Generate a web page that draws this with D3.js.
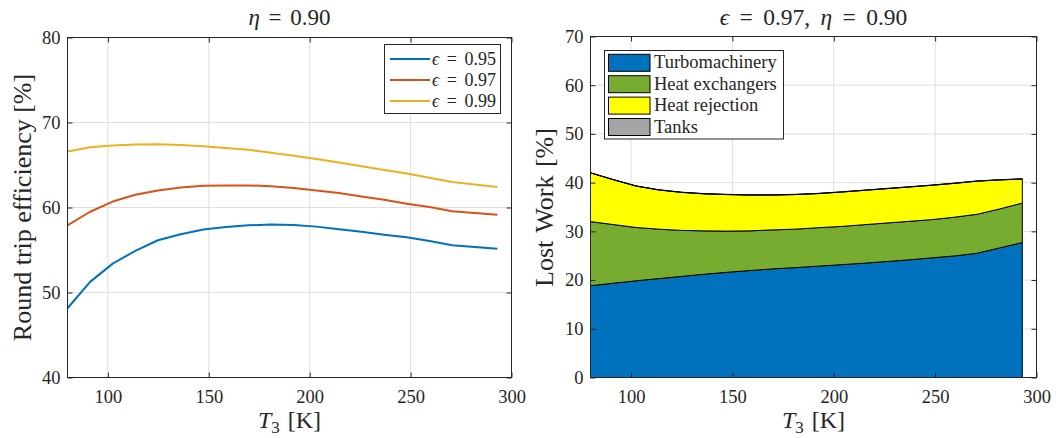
<!DOCTYPE html>
<html><head><meta charset="utf-8">
<script src="https://cdn.jsdelivr.net/npm/d3@7"></script>
<style>
body{margin:0;background:#fff}
svg{display:block}
text{font-family:"Liberation Serif","DejaVu Serif",serif;fill:#262626}
</style>
</head><body><svg id="c" width="1059" height="438"></svg>
<script>
// ---------- data ----------
const T3 = [80, 91.2, 102.4, 113.6, 124.8, 136.1, 147.3, 158.5, 169.7, 180.9, 192.1, 203.3, 214.5, 225.7, 236.9, 248.1, 259.4, 270.6, 281.8, 293];
const eff095 = [48.15, 51.25, 53.4, 54.9, 56.15, 56.85, 57.4, 57.7, 57.9, 58.0, 57.95, 57.75, 57.45, 57.15, 56.8, 56.5, 56.05, 55.55, 55.35, 55.15];
const eff097 = [57.9, 59.5, 60.7, 61.5, 62.0, 62.35, 62.55, 62.6, 62.6, 62.5, 62.3, 62.0, 61.7, 61.3, 60.9, 60.45, 60.05, 59.55, 59.35, 59.15];
const eff099 = [66.6, 67.1, 67.3, 67.4, 67.43, 67.35, 67.2, 67.0, 66.8, 66.45, 66.1, 65.7, 65.3, 64.85, 64.4, 64.0, 63.5, 63.0, 62.7, 62.4];
const effLabels = ["0.95", "0.97", "0.99"];
const effColors = ["#0072BD", "#D95319", "#EDB120"];

const lwTurbo   = [18.85, 19.35, 19.85, 20.3, 20.75, 21.2, 21.6, 21.95, 22.3, 22.55, 22.85, 23.15, 23.45, 23.8, 24.15, 24.55, 24.95, 25.5, 26.6, 27.7];
const lwHeatEx  = [13.15, 12.05, 10.95, 10.15, 9.45, 8.9, 8.45, 8.15, 8.0, 7.9, 7.9, 7.85, 7.9, 7.9, 7.9, 7.85, 7.95, 8.0, 8.0, 8.1];
const lwHeatRej = [10.0, 9.2, 8.5, 8.05, 7.8, 7.6, 7.5, 7.35, 7.15, 7.1, 7.0, 7.05, 7.05, 7.05, 7.05, 7.05, 6.95, 6.8, 5.95, 4.95];
const lwTanks   = [0.05, 0.05, 0.05, 0.05, 0.05, 0.05, 0.05, 0.05, 0.05, 0.05, 0.05, 0.05, 0.05, 0.05, 0.05, 0.05, 0.05, 0.05, 0.05, 0.05];
const lwNames  = ["Turbomachinery", "Heat exchangers", "Heat rejection", "Tanks"];
const lwColors = ["#0072BD", "#77AC30", "#FFFF00", "#A5A5A5"];

const xTicks = [100, 150, 200, 250, 300];
const yTicksL = [40, 50, 60, 70, 80];
const yTicksR = [0, 10, 20, 30, 40, 50, 60, 70];

// ---------- layout ----------
const svg = d3.select("#c");
const AX = "#262626", GRID = "#dfdfdf";
const FONT = '"Liberation Serif","DejaVu Serif",serif';

function panel(x, y, xt, yt) {
  const g = svg.append("g");
  const [x0, x1] = x.range(), [y0, y1] = y.range();
  const grid = g.append("g");
  xt.filter(v => v > x.domain()[0] && v < x.domain()[1]).forEach(v =>
    grid.append("line").attr("x1", x(v)).attr("x2", x(v)).attr("y1", y0).attr("y2", y1)
      .attr("stroke", GRID).attr("stroke-width", 1));
  yt.filter(v => v > y.domain()[0] && v < y.domain()[1]).forEach(v =>
    grid.append("line").attr("y1", y(v)).attr("y2", y(v)).attr("x1", x0).attr("x2", x1)
      .attr("stroke", GRID).attr("stroke-width", 1));
  const data = g.append("g");
  const axes = g.append("g");
  return {g, data, axes, draw() {
    const ab = axes.append("g").attr("transform", `translate(0,${y0})`)
      .call(d3.axisBottom(x).tickValues(xt).tickSizeInner(-5).tickSizeOuter(0).tickPadding(12).tickFormat(d3.format("d")));
    const at = axes.append("g").attr("transform", `translate(0,${y1})`)
      .call(d3.axisTop(x).tickValues(xt).tickSizeInner(-5).tickSizeOuter(0).tickFormat(""));
    const al = axes.append("g").attr("transform", `translate(${x0},0)`)
      .call(d3.axisLeft(y).tickValues(yt).tickSizeInner(-5).tickSizeOuter(0).tickPadding(7).tickFormat(d3.format("d")));
    const ar = axes.append("g").attr("transform", `translate(${x1},0)`)
      .call(d3.axisRight(y).tickValues(yt).tickSizeInner(-5).tickSizeOuter(0).tickFormat(""));
    [ab, at, al, ar].forEach(a => {
      a.select(".domain").remove();
      a.selectAll("line").attr("stroke", AX);
      a.selectAll("text").style("font-size", "18.5px").attr("fill", AX).style("font-family", FONT);
    });
    axes.append("rect").attr("x", x0).attr("y", y1).attr("width", x1 - x0).attr("height", y0 - y1)
      .attr("fill", "none").attr("stroke", AX).attr("stroke-width", 1);
  }};
}

// ---------- left panel ----------
const xL = d3.scaleLinear([80, 300], [67.5, 511.5]);
const yL = d3.scaleLinear([40, 80], [377.5, 37.5]);
const pL = panel(xL, yL, xTicks, yTicksL);
const effSeries = [eff095, eff097, eff099];
const line = d3.line().x((d, i) => xL(T3[i])).y(d => yL(d));
effSeries.forEach((s, k) => {
  pL.data.append("path").attr("d", line(s)).attr("fill", "none")
    .attr("stroke", effColors[k]).attr("stroke-width", 2).attr("stroke-linejoin", "round");
});
pL.draw();

// ---------- right panel ----------
const xR = d3.scaleLinear([80, 300], [590.5, 1036.5]);
const yR = d3.scaleLinear([0, 70], [377.5, 36.5]);
const pR = panel(xR, yR, xTicks, yTicksR);
const rows = T3.map((t, i) => ({t, a: lwTurbo[i], b: lwHeatEx[i], c: lwHeatRej[i], d: lwTanks[i]}));
const stacked = d3.stack().keys(["a", "b", "c", "d"])(rows);
const area = d3.area().x(d => xR(d.data.t)).y0(d => yR(d[0])).y1(d => yR(d[1]));
stacked.forEach((s, k) => {
  pR.data.append("path").attr("d", area(s) + "Z").attr("fill", lwColors[k])
    .attr("stroke", "#000").attr("stroke-width", 1).attr("stroke-linejoin", "round");
});
pR.draw();

// ---------- texts ----------
function mathText(sel, parts) {
  parts.forEach(p => {
    const t = sel.append("tspan").text(p.t);
    if (p.i) t.style("font-style", "italic");
    if (p.fs) t.style("font-size", p.fs);
    if (p.dy) t.attr("dy", p.dy);
    if (p.dx) t.attr("dx", p.dx);
  });
  return sel;
}
const cL = (xL.range()[0] + xL.range()[1]) / 2, cR = (xR.range()[0] + xR.range()[1]) / 2;
// titles
mathText(svg.append("text").attr("x", cL).attr("y", 25).attr("text-anchor", "middle").style("font-size", "23px"),
  [{t: "η", i: 1}, {t: " = 0.90"}]).attr("word-spacing", "3px");
mathText(svg.append("text").attr("x", cR).attr("y", 25).attr("text-anchor", "middle").style("font-size", "23.5px"),
  [{t: "ϵ", i: 1}, {t: " = 0.97, "}, {t: "η", i: 1}, {t: " = 0.90"}]).attr("word-spacing", "4.5px");
// x labels
[cL, cR].forEach(cx => {
  mathText(svg.append("text").attr("x", cx).attr("y", 428).attr("text-anchor", "middle").style("font-size", "24px").attr("word-spacing", "2px"),
    [{t: "T", i: 1}, {t: "3", fs: "17px", dy: 5}, {t: " [K]", dy: -5}]);
});
// y labels
svg.append("text").attr("transform", "translate(31,207.5) rotate(-90)").attr("text-anchor", "middle")
  .style("font-size", "26px").text("Round trip efficiency [%]");
svg.append("text").attr("transform", "translate(553,207.5) rotate(-90)").attr("text-anchor", "middle")
  .style("font-size", "26px").attr("word-spacing", "2px").text("Lost Work [%]");

// left legend
const lgL = svg.append("g");
lgL.append("rect").attr("x", 384.5).attr("y", 44.5).attr("width", 116).attr("height", 69)
  .attr("fill", "#fff").attr("stroke", AX).attr("stroke-width", 1);
effLabels.forEach((lab, k) => {
  const cy = 59 + k * 21;
  lgL.append("line").attr("x1", 390).attr("x2", 430).attr("y1", cy).attr("y2", cy)
    .attr("stroke", effColors[k]).attr("stroke-width", 2);
  mathText(lgL.append("text").attr("x", 432).attr("y", cy + 5.5).style("font-size", "18px").attr("word-spacing", "3px"),
    [{t: "ϵ", i: 1}, {t: " = " + lab}]);
});

// right legend
const lgR = svg.append("g");
lgR.append("rect").attr("x", 604.5).attr("y", 50.5).attr("width", 179).attr("height", 88.5)
  .attr("fill", "#fff").attr("stroke", AX).attr("stroke-width", 1);
lwNames.forEach((n, k) => {
  const cy = 62.8 + k * 21.4;
  lgR.append("rect").attr("x", 608.5).attr("y", cy - 8.5).attr("width", 41.5).attr("height", 17)
    .attr("fill", lwColors[k]).attr("stroke", "#000").attr("stroke-width", 1);
  lgR.append("text").attr("x", 654).attr("y", cy + 5.5).style("font-size", "18.5px").text(n);
});
</script></body></html>
